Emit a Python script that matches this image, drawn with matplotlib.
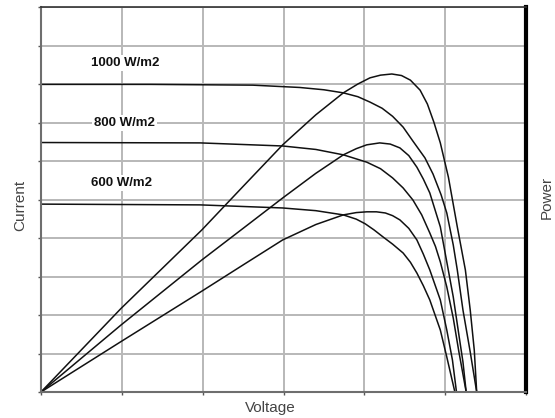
import matplotlib
matplotlib.use("Agg")
import matplotlib.pyplot as plt

# values, in grid units (x: 6 divisions, y: 10 divisions)
v_1000 = [0, 1.35, 2.62, 3.20, 3.50, 3.74, 3.92, 4.07, 4.22, 4.35, 4.48, 4.60, 4.75, 4.85, 4.95, 5.02, 5.10, 5.15, 5.22, 5.31, 5.39]
i_1000 = [7.99, 7.99, 7.97, 7.91, 7.85, 7.77, 7.67, 7.53, 7.37, 7.16, 6.88, 6.52, 6.08, 5.66, 5.12, 4.65, 3.82, 3.17, 2.13, 1.04, 0]
pv_1000 = [0, 0.99, 1.99, 2.50, 2.99, 3.40, 3.74, 3.92, 4.07, 4.20, 4.34, 4.46, 4.57, 4.69, 4.78, 4.86, 4.94, 5.04, 5.15, 5.25, 5.31, 5.36, 5.39]
p_1000 = [0, 2.17, 4.21, 5.34, 6.42, 7.20, 7.77, 8.00, 8.16, 8.23, 8.26, 8.22, 8.10, 7.84, 7.48, 7.01, 6.47, 5.58, 4.29, 3.17, 2.13, 1.09, 0]

v_800 = [0, 1.97, 2.99, 3.40, 3.74, 4.03, 4.20, 4.35, 4.48, 4.60, 4.71, 4.81, 4.88, 4.94, 5.02, 5.10, 5.17, 5.26]
i_800 = [6.48, 6.47, 6.39, 6.30, 6.16, 5.97, 5.80, 5.56, 5.30, 4.99, 4.60, 4.13, 3.78, 3.38, 2.73, 1.92, 1.04, 0]
pv_800 = [0, 0.99, 1.99, 2.50, 2.99, 3.40, 3.74, 3.90, 4.03, 4.19, 4.32, 4.44, 4.55, 4.65, 4.73, 4.81, 4.94, 5.02, 5.10, 5.17, 5.22, 5.26]
p_800 = [0, 1.74, 3.43, 4.25, 5.04, 5.68, 6.16, 6.32, 6.42, 6.47, 6.44, 6.34, 6.14, 5.84, 5.53, 5.17, 4.29, 3.38, 2.47, 1.48, 0.78, 0]

v_600 = [0, 1.97, 2.99, 3.40, 3.74, 3.90, 4.01, 4.12, 4.23, 4.35, 4.48, 4.57, 4.65, 4.73, 4.81, 4.94, 5.02, 5.12]
i_600 = [4.88, 4.86, 4.78, 4.71, 4.60, 4.49, 4.37, 4.21, 4.03, 3.84, 3.61, 3.37, 3.09, 2.76, 2.39, 1.61, 0.91, 0]
pv_600 = [0, 0.99, 1.99, 2.50, 2.99, 3.40, 3.74, 3.90, 4.03, 4.15, 4.26, 4.35, 4.44, 4.55, 4.65, 4.73, 4.81, 4.94, 5.02, 5.09, 5.14]
p_600 = [0, 1.31, 2.62, 3.30, 3.95, 4.35, 4.60, 4.66, 4.68, 4.68, 4.65, 4.58, 4.47, 4.25, 3.95, 3.58, 3.17, 2.39, 1.61, 0.83, 0]

labels = ["1000 W/m2", "800 W/m2", "600 W/m2"]
label_pos = [(1.04, 8.55), (1.03, 6.99), (1.00, 5.43)]

fig = plt.figure(figsize=(5.55, 4.18), dpi=100)
ax = fig.add_axes([41 / 555, 26 / 418, 485 / 555, 385 / 418])

ax.set_xlim(0, 6)
ax.set_ylim(0, 10)
ax.set_xticks(range(0, 7))
ax.set_yticks(range(0, 11))
ax.set_xticklabels([])
ax.set_yticklabels([])
ax.tick_params(length=2, width=1, color="#555555", direction="out")
ax.grid(True, color="#b8b8b8", linewidth=1.4)
ax.set_axisbelow(True)

for side in ["left", "bottom"]:
    ax.spines[side].set_color("#6e6e6e")
    ax.spines[side].set_linewidth(1.5)
ax.spines["top"].set_color("#333333")
ax.spines["top"].set_linewidth(1.2)
ax.spines["right"].set_color("black")
ax.spines["right"].set_linewidth(3)

line_kw = dict(color="#111111", linewidth=1.1)
for v, c in [(v_1000, i_1000), (v_800, i_800), (v_600, i_600)]:
    ax.plot(v, c, **line_kw)
for v, p in [(pv_1000, p_1000), (pv_800, p_800), (pv_600, p_600)]:
    ax.plot(v, p, **line_kw)

for text, (x, y) in zip(labels, label_pos):
    ax.text(x, y, text, ha="center", va="center", fontsize=9.5,
            fontweight="bold", family="Liberation Sans", color="#111111",
            bbox=dict(facecolor="white", edgecolor="none", pad=1.5))

# axis titles placed in figure pixels to match the reference
lbl_kw = dict(fontsize=11, family="Liberation Sans", color="#444444", ha="center", va="center")
fig.text(270 / 555, 1 - 408 / 418, "Voltage", **lbl_kw)
fig.text(20 / 555, 1 - 205 / 418, "Current", rotation=90, **lbl_kw)
fig.text(547 / 555, 1 - 197 / 418, "Power", rotation=90, **lbl_kw)

fig.savefig("out.png", dpi=100)
